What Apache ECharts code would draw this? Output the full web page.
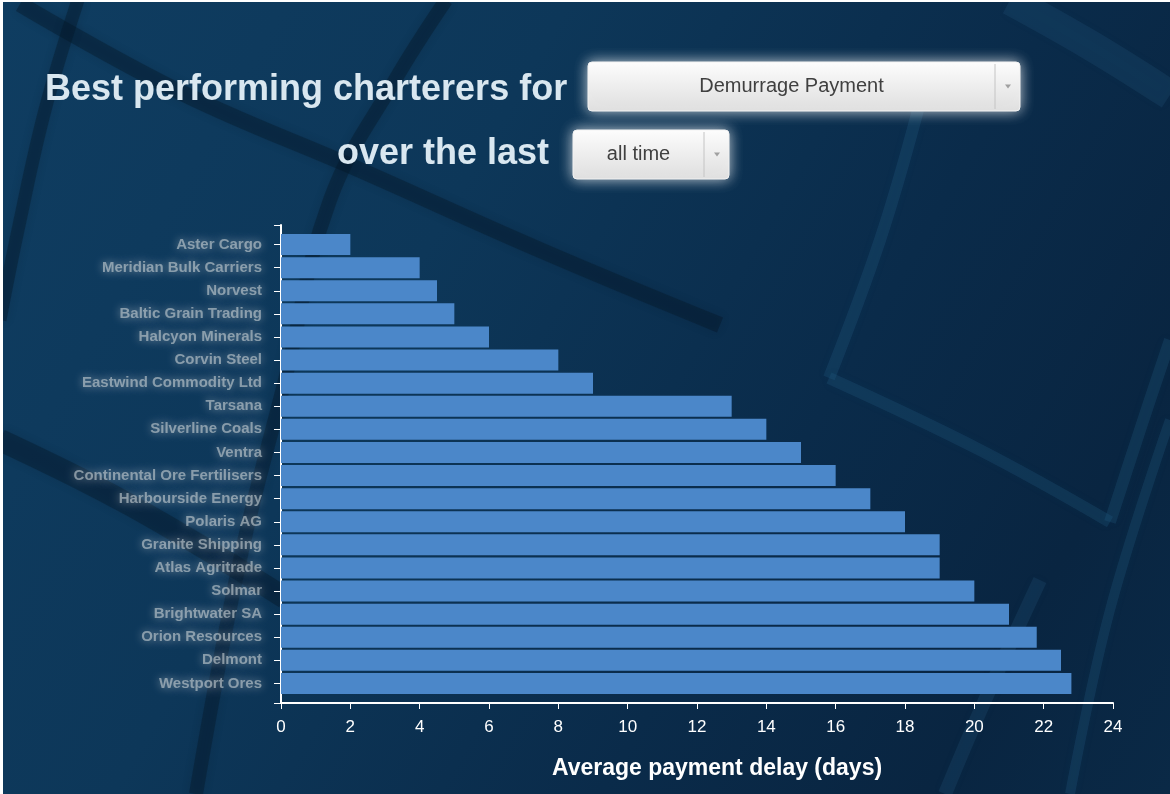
<!DOCTYPE html>
<html>
<head>
<meta charset="utf-8">
<title>Best performing charterers</title>
<script src="https://cdn.jsdelivr.net/npm/echarts@6/dist/echarts.min.js"></script>
<style>
  html, body { margin: 0; padding: 0; background: #ffffff; }
  #wrap { position: relative; width: 1170px; height: 794px; overflow: hidden; }
  #chart {
    position: absolute; left: 0; top: 0; width: 1170px; height: 794px;
    background: linear-gradient(120deg, #0f3d61 0%, #0d3759 35%, #0a2b4a 65%, #092541 85%, #0a2946 100%);
  }
  #edge {
    position: absolute; left: 0; top: 0; width: 1170px; height: 794px;
    box-sizing: border-box; border-left: 3px solid #fff; border-top: 2px solid #fff;
    pointer-events: none;
  }
</style>
</head>
<body>
<div id="wrap">
  <div id="chart"></div>
  <div id="edge"></div>
</div>
<script>
// charterer names are blurred in the source, these stand in for them
const charterers = [
  'Aster Cargo',
  'Meridian Bulk Carriers',
  'Norvest',
  'Baltic Grain Trading',
  'Halcyon Minerals',
  'Corvin Steel',
  'Eastwind Commodity Ltd',
  'Tarsana',
  'Silverline Coals',
  'Ventra',
  'Continental Ore Fertilisers',
  'Harbourside Energy',
  'Polaris AG',
  'Granite Shipping',
  'Atlas Agritrade',
  'Solmar',
  'Brightwater SA',
  'Orion Resources',
  'Delmont',
  'Westport Ores'
]
// average payment delay (days)
const delayDays = [2, 4, 4.5, 5, 6, 8, 9, 13, 14, 15, 16, 17, 18, 19, 19, 20, 21, 21.8, 22.5, 22.8]

const xMin = 0
const xMax = 24
const xStep = 2

const headingLine1 = 'Best performing charterers for'
const headingLine2 = 'over the last'
const metricChoice = 'Demurrage Payment'
const periodChoice = 'all time'
const xAxisTitle = 'Average payment delay (days)'

const chart = echarts.init(document.getElementById('chart'))

// 背景里的地球线条
const darkLine = 'rgba(4, 22, 40, 0.4)'
const lightLine = 'rgba(38, 96, 134, 0.24)'
const bgCurve = (points, color, width) => ({
  type: 'polyline',
  silent: true,
  z: -10,
  shape: { points: points, smooth: 0.4 },
  style: { stroke: color, lineWidth: width, fill: null, shadowBlur: 8, shadowColor: color }
})

// 下拉框
const dropdown = (x, y, w, h, dividerX, label) => ({
  type: 'group',
  children: [
    {
      type: 'rect',
      shape: { x: x, y: y, width: w, height: h, r: 4 },
      style: {
        fill: new echarts.graphic.LinearGradient(0, 0, 0, 1, [
          { offset: 0, color: '#fdfdfd' },
          { offset: 1, color: '#dedede' }
        ]),
        stroke: '#f2f2f2',
        lineWidth: 1,
        shadowBlur: 14,
        shadowColor: 'rgba(255,255,255,0.75)'
      }
    },
    {
      type: 'line',
      shape: { x1: dividerX, y1: y + 2, x2: dividerX, y2: y + h - 2 },
      style: { stroke: '#c4c4c4', lineWidth: 1 }
    },
    {
      type: 'polygon',
      shape: { points: [[dividerX + 10, y + h / 2 - 2], [dividerX + 16, y + h / 2 - 2], [dividerX + 13, y + h / 2 + 2]] },
      style: { fill: '#a0a0a0' }
    },
    {
      type: 'text',
      x: (x + dividerX) / 2,
      y: y + h / 2,
      style: {
        text: label,
        fill: '#404040',
        font: '20px "Liberation Sans", Arial, sans-serif',
        textAlign: 'center',
        textVerticalAlign: 'middle'
      }
    }
  ]
})

const headingStyle = {
  color: '#d9e7f0',
  fontSize: 36,
  fontWeight: 'bold',
  fontFamily: '"Liberation Sans", Arial, sans-serif'
}

const option = {
  animation: false,
  title: [
    { text: headingLine1, left: 40, top: 67, textStyle: headingStyle },
    { text: headingLine2, right: 616, top: 131, textStyle: headingStyle }
  ],
  graphic: [
    bgCurve([[20, 4], [180, 92], [360, 170], [540, 250], [720, 325]], darkLine, 16),
    bgCurve([[446, 0], [395, 80], [330, 200], [285, 380], [240, 560], [196, 794]], darkLine, 14),
    bgCurve([[78, 0], [45, 110], [18, 230], [0, 320]], darkLine, 13),
    bgCurve([[0, 440], [130, 505], [285, 598]], darkLine, 22),
    bgCurve([[918, 110], [880, 240], [829, 378]], lightLine, 12),
    bgCurve([[829, 378], [980, 450], [1110, 522]], lightLine, 12),
    bgCurve([[1110, 522], [1140, 430], [1170, 340]], lightLine, 12),
    bgCurve([[1170, 420], [1110, 610], [1070, 794]], lightLine, 10),
    bgCurve([[1040, 580], [985, 700], [945, 794]], 'rgba(38, 96, 134, 0.2)', 14),
    bgCurve([[1010, 0], [1090, 45], [1170, 95]], 'rgba(38, 96, 134, 0.2)', 30),
    dropdown(588, 62, 432, 49, 995, metricChoice),
    dropdown(573, 130, 156, 49, 704, periodChoice)
  ],
  grid: [
    // 坐标轴所在的网格
    { left: 281, right: 57, top: 225, bottom: 91 },
    // 柱子所在的网格
    { left: 281, right: 57, top: 233, bottom: 99 }
  ],
  xAxis: [
    {
      gridIndex: 0,
      type: 'value',
      min: xMin,
      max: xMax,
      interval: xStep,
      name: xAxisTitle,
      nameLocation: 'middle',
      nameGap: 54,
      nameTextStyle: {
        color: '#ffffff',
        fontSize: 23,
        fontWeight: 'bold',
        fontFamily: '"Liberation Sans", Arial, sans-serif',
        padding: [0, 0, 0, 40]
      },
      axisLine: { show: true, lineStyle: { color: '#ffffff', width: 2 } },
      axisTick: { show: true, length: 6, lineStyle: { color: '#ffffff', width: 1 } },
      axisLabel: {
        color: '#ffffff',
        fontSize: 17,
        margin: 16,
        fontFamily: '"Liberation Sans Narrow", "Liberation Sans", Arial, sans-serif'
      },
      splitLine: { show: false }
    },
    {
      gridIndex: 1,
      type: 'value',
      min: xMin,
      max: xMax,
      show: false
    }
  ],
  yAxis: [
    {
      gridIndex: 0,
      type: 'value',
      min: 0,
      max: 1,
      interval: 1,
      axisLine: { show: true, lineStyle: { color: '#ffffff', width: 2 } },
      axisTick: { show: true, length: 7, lineStyle: { color: '#ffffff' } },
      axisLabel: { show: false },
      splitLine: { show: false }
    },
    {
      gridIndex: 1,
      type: 'category',
      inverse: true,
      data: charterers,
      axisLine: { show: false },
      axisTick: { show: true, alignWithLabel: true, length: 7, lineStyle: { color: '#ffffff' } },
      axisLabel: {
        margin: 19,
        fontSize: 15,
        fontWeight: 'bold',
        fontFamily: '"Liberation Sans", Arial, sans-serif',
        color: 'rgba(200, 208, 212, 0.6)',
        textShadowColor: 'rgba(205, 214, 218, 1)',
        textShadowBlur: 8
      },
      splitLine: { show: false }
    }
  ],
  series: [
    {
      type: 'bar',
      xAxisIndex: 1,
      yAxisIndex: 1,
      data: delayDays,
      barCategoryGap: '9%',
      itemStyle: { color: '#4b87c9' }
    }
  ]
}

chart.setOption(option)
</script>
</body>
</html>
